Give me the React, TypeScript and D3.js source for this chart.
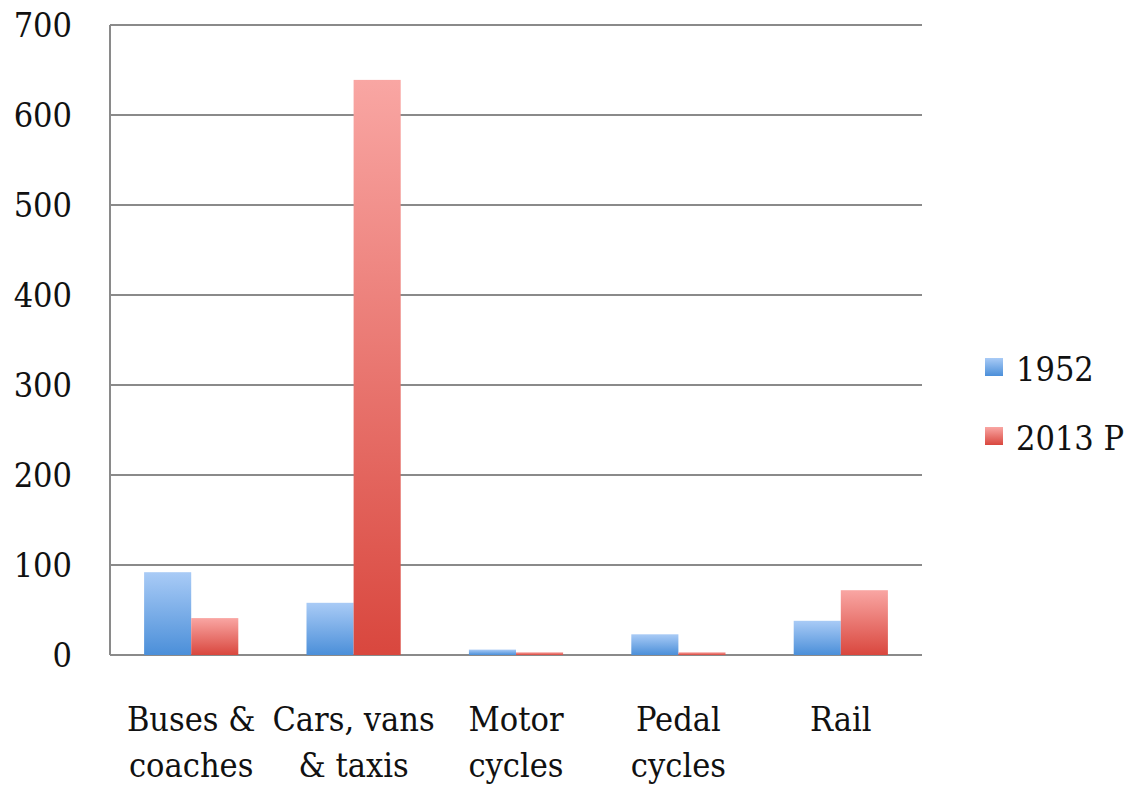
import { useEffect, useRef } from "react";
import * as d3 from "d3";

// Données
const categories = [
  ["Buses &", "coaches"],
  ["Cars, vans", "& taxis"],
  ["Motor", "cycles"],
  ["Pedal", "cycles"],
  ["Rail", ""],
];
const series = ["1952", "2013 P"];
const values1952 = [92, 58, 6, 23, 38];
const values2013 = [41, 639, 3, 3, 72];
const yTicks = [0, 100, 200, 300, 400, 500, 600, 700];

const width = 1133;
const height = 785;
const margin = { top: 25, right: 211, bottom: 130, left: 110 };
const font = "'DejaVu Serif Condensed', 'DejaVu Serif', serif";
const fontSize = 34;

const colors = [
  { top: "#a9cbf6", bottom: "#4b8fd9" },
  { top: "#f9a6a3", bottom: "#d9473e" },
];

export default function App() {
  const ref = useRef<SVGSVGElement>(null);

  useEffect(() => {
    const svg = d3.select(ref.current);
    svg.selectAll("*").remove();

    const data = categories.map((c, i) => ({
      name: c.join(" "),
      lines: c,
      vals: [values1952[i], values2013[i]],
    }));

    const x = d3.scaleBand<string>()
      .domain(data.map(d => d.name))
      .range([margin.left, width - margin.right])
      .paddingInner(0.42)
      .paddingOuter(0.21);

    const xSub = d3.scaleBand<string>()
      .domain(series)
      .range([0, x.bandwidth()]);

    const y = d3.scaleLinear()
      .domain([0, 700])
      .range([height - margin.bottom, margin.top]);

    // Dégradés
    const defs = svg.append("defs");
    colors.forEach((c, i) => {
      const g = defs.append("linearGradient")
        .attr("id", `grad${i}`)
        .attr("x1", 0).attr("y1", 0).attr("x2", 0).attr("y2", 1);
      g.append("stop").attr("offset", "0%").attr("stop-color", c.top);
      g.append("stop").attr("offset", "100%").attr("stop-color", c.bottom);
    });

    // Grille
    svg.append("g")
      .selectAll("line")
      .data(yTicks)
      .join("line")
      .attr("x1", margin.left)
      .attr("x2", width - margin.right)
      .attr("y1", d => y(d))
      .attr("y2", d => y(d))
      .attr("stroke", "#8a8a8a")
      .attr("stroke-width", 2);

    svg.append("line")
      .attr("x1", margin.left).attr("x2", margin.left)
      .attr("y1", y(700)).attr("y2", y(0))
      .attr("stroke", "#8a8a8a")
      .attr("stroke-width", 2);

    // Étiquettes de l'axe Y
    svg.append("g")
      .attr("font-family", font)
      .attr("font-size", fontSize)
      .attr("text-anchor", "end")
      .attr("fill", "#111")
      .selectAll("text")
      .data(yTicks)
      .join("text")
      .attr("x", 72)
      .attr("y", d => y(d))
      .attr("dy", "0.36em")
      .text(d => d);

    // Barres
    const groups = svg.append("g")
      .selectAll("g")
      .data(data)
      .join("g")
      .attr("transform", d => `translate(${x(d.name)},0)`);

    groups.selectAll("rect")
      .data(d => d.vals.map((v, i) => ({ key: series[i], v, i })))
      .join("rect")
      .attr("x", d => xSub(d.key)!)
      .attr("width", xSub.bandwidth())
      .attr("y", d => y(d.v))
      .attr("height", d => y(0) - y(d.v))
      .attr("fill", d => `url(#grad${d.i})`);

    // Étiquettes des catégories
    const labels = svg.append("g")
      .attr("font-family", font)
      .attr("font-size", fontSize)
      .attr("text-anchor", "middle")
      .attr("fill", "#111")
      .selectAll("text")
      .data(data)
      .join("text");
    labels.append("tspan")
      .attr("x", d => x(d.name)! + x.bandwidth() / 2)
      .attr("y", 731)
      .text(d => d.lines[0]);
    labels.append("tspan")
      .attr("x", d => x(d.name)! + x.bandwidth() / 2)
      .attr("y", 777)
      .text(d => d.lines[1]);

    // Légende
    const legend = svg.append("g")
      .selectAll("g")
      .data(series)
      .join("g")
      .attr("transform", (d, i) => `translate(985,${358 + i * 69})`);
    legend.append("rect")
      .attr("width", 18)
      .attr("height", 18)
      .attr("fill", (d, i) => `url(#grad${i})`);
    legend.append("text")
      .attr("x", 31)
      .attr("y", 11)
      .attr("dy", "0.36em")
      .attr("font-family", font)
      .attr("font-size", fontSize)
      .attr("fill", "#111")
      .text(d => d);
  }, []);

  return (
    <svg
      ref={ref}
      width={width}
      height={height}
      style={{ position: "absolute", left: 0, top: 0, background: "#fff" }}
    />
  );
}
